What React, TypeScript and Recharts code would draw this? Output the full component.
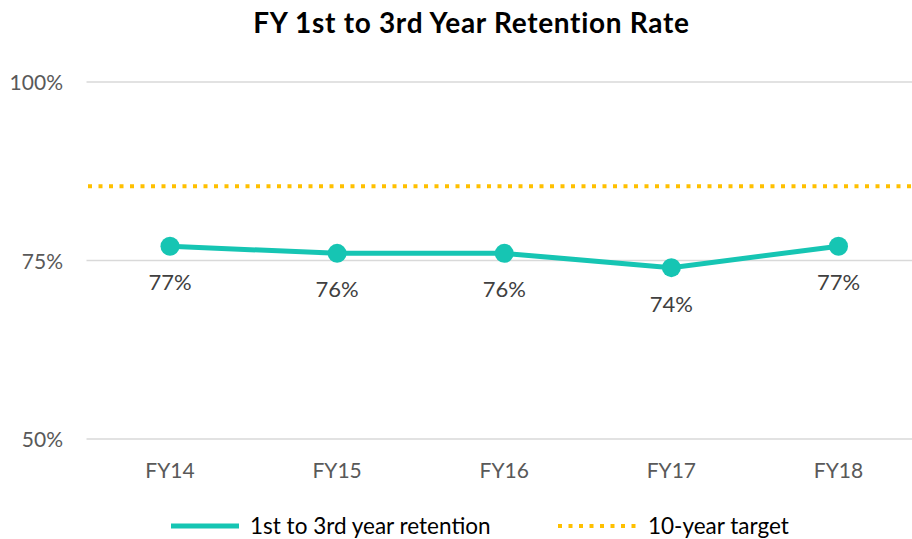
import { LineChart, Line, XAxis, YAxis, CartesianGrid, ReferenceLine, LabelList } from "recharts";

const years = ["FY14", "FY15", "FY16", "FY17", "FY18"];
const retention = [77, 76, 76, 74, 77];
const target = 85.4;
const yTicks = [50, 75, 100];

const TEAL = "#16C5B3";
const GOLD = "#FFC000";
const FONT = "Lato, 'Open Sans', sans-serif";

const data = years.map((fy, i) => ({ fy, retention: retention[i] }));

function PointLabel(props: any) {
  const { x, y, value } = props;
  return (
    <text x={x} y={y + 44} textAnchor="middle" fontSize={22} fill="#404040" fontFamily={FONT}>
      {value}%
    </text>
  );
}

function YTick(props: any) {
  const { y, payload } = props;
  return (
    <text x={63} y={y + 8} textAnchor="end" fontSize={21} fill="#595959" fontFamily={FONT}>
      {payload.value}%
    </text>
  );
}

function XTick(props: any) {
  const { x, y, payload } = props;
  return (
    <text x={x} y={y + 31} textAnchor="middle" fontSize={21} fill="#595959" fontFamily={FONT}>
      {payload.value}
    </text>
  );
}

export default function App() {
  return (
    <div style={{ position: "absolute", left: 0, top: 0, width: 912, height: 539, overflow: "hidden", background: "#fff" }}>
      <svg style={{ position: "absolute", left: 0, top: 0 }} width={912} height={50}>
        <text x={471.5} y={33} textAnchor="middle" fontSize={28} fontWeight={700} letterSpacing={0.7} fill="#000" fontFamily={FONT}>
          FY 1st to 3rd Year Retention Rate
        </text>
      </svg>
      <LineChart width={930} height={539} data={data} margin={{ top: 82, right: 8, left: 0, bottom: 0 }}>
        <CartesianGrid horizontal vertical={false} stroke="#d9d9d9" strokeWidth={1.5} />
        <XAxis
          dataKey="fy"
          axisLine={false}
          tickLine={false}
          height={100}
          tick={<XTick />}
          interval={0}
          padding={{ left: 83.5, right: 83.5 }}
        />
        <YAxis domain={[50, 100]} ticks={yTicks} axisLine={false} tickLine={false} width={86.5} tick={<YTick />} />
        <ReferenceLine y={target} stroke={GOLD} strokeWidth={4} strokeDasharray="4 6.5" strokeDashoffset={-12} />
        <Line
          type="linear"
          dataKey="retention"
          stroke={TEAL}
          strokeWidth={5}
          dot={{ r: 9.5, fill: TEAL, stroke: TEAL, strokeWidth: 0 }}
          activeDot={false}
          isAnimationActive={false}
        >
          <LabelList dataKey="retention" content={<PointLabel />} />
        </Line>
      </LineChart>
      <svg style={{ position: "absolute", left: 0, top: 500 }} width={912} height={39}>
        <line x1={171} x2={239} y1={26} y2={26} stroke={TEAL} strokeWidth={5} />
        <text x={250} y={34} fontSize={22.5} fill="#000" fontFamily={FONT}>1st to 3rd year retention</text>
        <line x1={558} x2={636} y1={26} y2={26} stroke={GOLD} strokeWidth={4} strokeDasharray="4 6.5" />
        <text x={648} y={34} fontSize={22.5} fill="#000" fontFamily={FONT}>10-year target</text>
      </svg>
    </div>
  );
}
